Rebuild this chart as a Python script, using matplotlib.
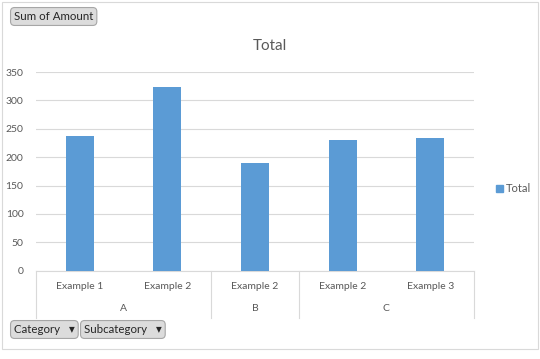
import matplotlib
matplotlib.use("Agg")
import matplotlib.pyplot as plt
from matplotlib.patches import Rectangle, Patch
import numpy as np

# data
categories = ["A", "A", "B", "C", "C"]
subcategories = ["Example 1", "Example 2", "Example 2", "Example 2", "Example 3"]
totals = [238, 323, 189, 231, 233]
yticks = [0, 50, 100, 150, 200, 250, 300, 350]

plt.rcParams['font.family'] = ['Lato', 'DejaVu Sans']
gray = "#595959"

fig = plt.figure(figsize=(5.4, 3.59), dpi=100)
W, H = 540, 359
ax = fig.add_axes([36 / W, (H - 270.7) / H, 438 / W, 198.7 / H])

x = np.arange(len(totals))
ax.bar(x, totals, width=0.32, color="#5B9BD5", zorder=3)
ax.set_xlim(-0.5, len(totals) - 0.5)
ax.set_ylim(0, 350)
ax.set_yticks(yticks)
ax.grid(axis="y", color="#D9D9D9", linewidth=0.8, zorder=0)
for s in ["top", "right", "left"]:
    ax.spines[s].set_visible(False)
ax.spines["bottom"].set_color("#D9D9D9")
ax.tick_params(axis="y", length=0, labelsize=7.5, labelcolor=gray, pad=9)
ax.set_xticks(x)
ax.set_xticklabels(subcategories)
ax.tick_params(axis="x", length=0, labelsize=7.5, labelcolor=gray, pad=8)

# second level of the category axis
groups = []
for i, c in enumerate(categories):
    if groups and groups[-1][0] == c:
        groups[-1][2] = i
    else:
        groups.append([c, i, i])
trans = ax.get_xaxis_transform()
for c, a, b in groups:
    ax.text((a + b) / 2, -0.19, c, transform=trans, ha="center", va="center",
            fontsize=7.5, color=gray, clip_on=False)
bounds = [g[1] - 0.5 for g in groups] + [groups[-1][2] + 0.5]
for bx in bounds:
    ax.plot([bx, bx], [0, -0.24], transform=trans, color="#D9D9D9",
            linewidth=0.8, clip_on=False)

fig.text(0.5, (H - 46) / H, "Total", ha="center", va="center", fontsize=11, color=gray)

leg = fig.legend(handles=[Patch(color="#5B9BD5", label="Total")],
                 loc="center left", bbox_to_anchor=(486 / W, (H - 189) / H),
                 frameon=False, fontsize=8, handlelength=0.6, handleheight=0.6,
                 handletextpad=0.3)
for t in leg.get_texts():
    t.set_color(gray)

# outer chart border
fig.patches.append(Rectangle((2 / W, (H - 349) / H), 536 / W, 347 / H,
                             transform=fig.transFigure, fill=False,
                             edgecolor="#D9D9D9", linewidth=0.8))

# pivot field buttons
btn = dict(boxstyle="round,pad=0.3,rounding_size=0.35", facecolor="#DCDCDC",
           edgecolor="#A6A6A6", linewidth=0.8)
fig.text(14 / W, (H - 16.5) / H, "Sum of Amount", ha="left", va="center",
         fontsize=8.3, color="#262626", bbox=btn)
fig.text(14 / W, (H - 329.5) / H, "Category   \u25BE", ha="left", va="center",
         fontsize=8.3, color="#262626", bbox=btn, family=['Lato', 'DejaVu Sans'])
fig.text(84 / W, (H - 329.5) / H, "Subcategory   \u25BE", ha="left", va="center",
         fontsize=8.3, color="#262626", bbox=btn, family=['Lato', 'DejaVu Sans'])

fig.savefig("out.png", dpi=100)
